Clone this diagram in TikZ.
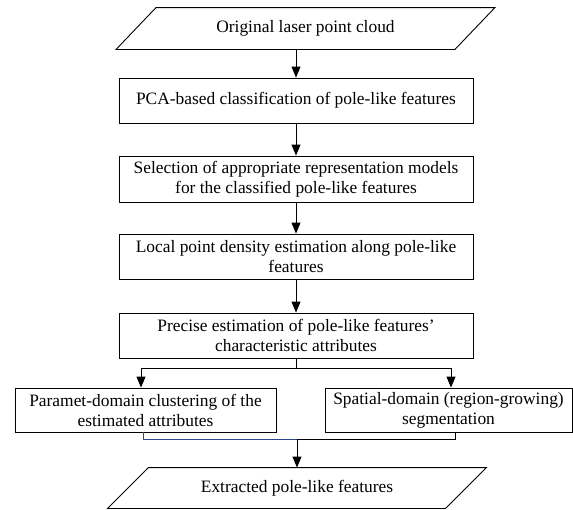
\documentclass[tikz,border=0pt]{standalone}
\usepackage{fontspec}
\setmainfont{Liberation Serif}
\usetikzlibrary{arrows.meta}
\definecolor{joinblue}{RGB}{45,70,140}
\begin{document}
\begin{tikzpicture}[x=1pt,y=-1pt,
  line width=0.9pt,
  txt/.style={font=\fontsize{17.4}{20}\selectfont, align=center, inner sep=0pt},
  box/.style={txt, draw, minimum width=354pt, minimum height=45pt},
  sidebox/.style={txt, draw, minimum height=44pt},
  iotext/.style={txt, minimum width=338pt, minimum height=41pt},
  arr/.style={-{Triangle[length=11pt,width=9pt]}}]
\useasboundingbox (0,0) rectangle (573,509);
% input
\node[iotext] (in) at (305.5,28.5) {Original laser point cloud};
\draw ([xshift=-20pt]in.south west) -- ([xshift=-20pt]in.south east)
   -- ([xshift=20pt]in.north east) -- ([xshift=20pt]in.north west) -- cycle;
% process boxes
\node[box] (p) at (296,100.5) {PCA-based classification of pole-like features};
\node[box, minimum height=46pt] (s) at (296,179) {Selection of appropriate representation models\\for the classified pole-like features};
\node[box] (l) at (296,256.5) {Local point density estimation along pole-like\\features};
\node[box] (e) at (296,335.5) {Precise estimation of pole-like features’\\characteristic attributes};
\node[sidebox, minimum width=261pt] (a) at (145.5,410) {Paramet-domain clustering of the\\estimated attributes};
\node[sidebox, minimum width=247pt] (b) at (448.5,410) {Spatial-domain (region-growing)\\segmentation};
% output
\node[iotext, minimum width=337pt, minimum height=40pt] (out) at (297,488) {Extracted pole-like features};
\draw ([xshift=-20.5pt]out.south west) -- ([xshift=-20.5pt]out.south east)
   -- ([xshift=20.5pt]out.north east) -- ([xshift=20.5pt]out.north west) -- cycle;
% connectors
\draw[arr] (in.south -| p.north) -- (p.north);
\draw[arr] (p) -- (s);
\draw[arr] (s) -- (l);
\draw[arr] (l) -- (e);
\coordinate (br) at (296,368);
\draw (e.south) -- (br);
\draw[arr] (br) -| ([xshift=-4.5pt]a.north);
\draw[arr] (br) -| ([xshift=2.5pt]b.north);
\coordinate (jn) at (297,439);
\draw[joinblue] ([xshift=-2.5pt]a.south) |- (jn);
\draw ([xshift=6.5pt]b.south) |- (jn);
\draw[arr] (jn) -- (out.north);
\end{tikzpicture}
\end{document}
